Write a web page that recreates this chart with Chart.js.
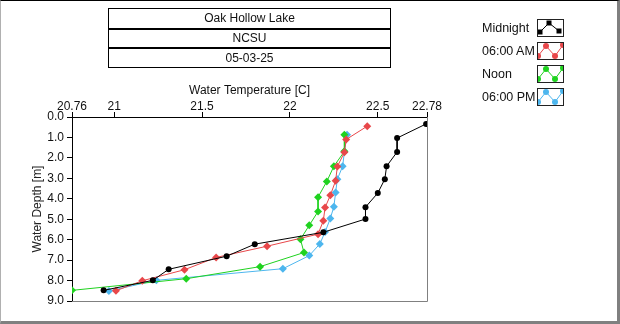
<!DOCTYPE html>
<html lang=en>
<head>
<meta charset=UTF-8>
<title>Oak Hollow Lake</title>
<style>
    * { margin: 0; padding: 0; }
    body {
        width: 620px; height: 324px; position: relative; overflow: hidden;
        background: #fff; font-family: "Liberation Sans", Arial, sans-serif; font-size: 12px; color: #111;
    }
    #chart { position: absolute; left: 0; top: 0; }
    .frame {
        position: absolute; left: 0; top: 0; width: 620px; height: 324px; box-sizing: border-box;
        border-top: 1px solid #000; border-left: 1px solid #b0b0b0;
        border-right: 3px solid #808080; border-bottom: 3px solid #808080; pointer-events: none;
    }
    .titles { position: absolute; left: 108px; top: 8px; width: 281px; border: 1px solid #000; }
    .titles div { text-align: center; }
    .titles .r1 { height: 19px; line-height: 19px; }
    .titles .r2 { height: 17px; line-height: 17px; border-top: 2px solid #000; }
    .titles .r3 { height: 18px; line-height: 18px; border-top: 2px solid #000; }
    .legend { position: absolute; left: 482px; top: 19px; }
    .legend .row { position: relative; height: 23px; }
    .legend span { position: absolute; left: 0; top: 0; line-height: 18px; white-space: nowrap; font-size: 12.5px; }
    .legend canvas { position: absolute; left: 55px; top: 0; border: 1px solid #222; }
</style>
</head>
<body>
<canvas id="chart" width="620" height="324"></canvas>
<div class="titles">
    <div class="r1">Oak Hollow Lake</div>
    <div class="r2">NCSU</div>
    <div class="r3">05-03-25</div>
</div>
<div class="legend" id="legend"></div>
<div class="frame"></div>
<script src="https://cdn.jsdelivr.net/npm/chart.js"></script>
<script>
    // tick labels
    const xTickValues = [20.76, 21, 21.5, 22, 22.5, 22.78];
    const yTickValues = [0, 1, 2, 3, 4, 5, 6, 7, 8, 9];

    const seriesNames = ['Midnight', '06:00 AM', 'Noon', '06:00 PM'];

    // water temperature [C] and depth [m] per profile
    const midnightTemp  = [22.775, 22.61, 22.61, 22.55, 22.54, 22.50, 22.43, 22.43, 22.19, 21.80, 21.64, 21.31, 21.22, 20.94];
    const midnightDepth = [0.34, 1.03, 1.71, 2.41, 3.04, 3.72, 4.41, 4.99, 5.64, 6.22, 6.81, 7.45, 7.99, 8.48];

    const amTemp  = [22.44, 22.32, 22.31, 22.27, 22.26, 22.23, 22.20, 22.19, 22.16, 21.87, 21.58, 21.40, 21.16, 21.01];
    const amDepth = [0.45, 1.10, 1.73, 2.42, 3.12, 3.83, 4.43, 5.08, 5.73, 6.32, 6.87, 7.47, 8.01, 8.50];

    const noonTemp  = [22.31, 22.31, 22.25, 22.21, 22.16, 22.16, 22.11, 22.06, 22.08, 21.83, 21.41, 20.76];
    const noonDepth = [0.87, 1.68, 2.41, 3.15, 3.92, 4.62, 5.30, 5.98, 6.63, 7.32, 7.91, 8.48];

    const pmTemp  = [22.325, 22.31, 22.30, 22.27, 22.26, 22.25, 22.23, 22.20, 22.17, 22.11, 21.96, 21.24, 20.97];
    const pmDepth = [0.87, 1.70, 2.41, 3.04, 3.69, 4.39, 4.96, 5.63, 6.21, 6.78, 7.42, 7.99, 8.51];

    const colors = ['#000000', '#e8474a', '#1fd21f', '#4db6ee'];
    const shapes = ['circle', 'rectRot', 'rectRot', 'rectRot'];
    const sizes = [3, 4, 4, 4];

    const temps = [midnightTemp, amTemp, noonTemp, pmTemp];
    const depths = [midnightDepth, amDepth, noonDepth, pmDepth];

    const font = { family: '"Liberation Sans", Arial, sans-serif', size: 12 };

    const datasets = seriesNames.map((name, i) => ({
        label: name,
        data: temps[i].map((t, j) => ({ x: t, y: depths[i][j] })),
        showLine: true,
        borderColor: colors[i],
        backgroundColor: colors[i],
        borderWidth: 1,
        pointStyle: shapes[i],
        pointRadius: sizes[i],
        pointBorderWidth: 0,
        pointBackgroundColor: colors[i]
    }));

    const plotFrame = {
        id: 'plotFrame',
        afterDraw(chart) {
            const { ctx, chartArea: a } = chart;
            ctx.save();
            ctx.strokeStyle = '#808080';
            ctx.lineWidth = 1;
            ctx.beginPath();
            ctx.moveTo(Math.round(a.right) + 0.5, a.top);
            ctx.lineTo(Math.round(a.right) + 0.5, Math.round(a.bottom) + 0.5);
            ctx.lineTo(a.left, Math.round(a.bottom) + 0.5);
            ctx.stroke();
            ctx.restore();
        }
    };

    new Chart(document.getElementById('chart'), {
        type: 'scatter',
        data: { datasets },
        options: {
            responsive: false,
            animation: false,
            devicePixelRatio: 1,
            layout: { padding: { left: 24, top: 81, right: 193, bottom: 23 } },
            plugins: { legend: { display: false }, tooltip: { enabled: false } },
            scales: {
                x: {
                    type: 'linear',
                    position: 'top',
                    min: 20.76,
                    max: 22.78,
                    afterBuildTicks: s => { s.ticks = xTickValues.map(v => ({ value: v })); },
                    afterFit: s => { s.height = 36; },
                    ticks: { font, color: '#111', padding: -2, maxRotation: 0, callback: v => String(v) },
                    grid: { drawOnChartArea: false, tickLength: 5, tickColor: '#000' },
                    border: { color: '#000', width: 1 },
                    title: { display: true, text: 'Water Temperature [C]', font, color: '#111', padding: { top: 2, bottom: 0 } }
                },
                y: {
                    type: 'linear',
                    reverse: true,
                    min: 0,
                    max: 9,
                    afterBuildTicks: s => { s.ticks = yTickValues.map(v => ({ value: v })); },
                    afterFit: s => { s.width = 48; },
                    ticks: { font, color: '#111', padding: 3, callback: v => v.toFixed(1) },
                    grid: { drawOnChartArea: false, tickLength: 5, tickColor: '#000' },
                    border: { color: '#000', width: 1 },
                    title: { display: true, text: 'Water Depth [m]', font, color: '#222', padding: { top: 6, bottom: 0 } }
                }
            }
        },
        plugins: [plotFrame]
    });

    // legend swatches
    const legend = document.getElementById('legend');
    seriesNames.forEach((name, i) => {
        const row = document.createElement('div');
        row.className = 'row';
        const label = document.createElement('span');
        label.textContent = name;
        const c = document.createElement('canvas');
        c.width = 25; c.height = 16;
        row.appendChild(label);
        row.appendChild(c);
        legend.appendChild(row);
        const g = c.getContext('2d');
        g.strokeStyle = colors[i];
        g.fillStyle = colors[i];
        g.lineWidth = 1;
        let pts;
        if (i === 0) pts = [[2, 12], [11, 3], [21, 11]];
        else pts = [[0, 13], [8, 3], [17, 13], [25, 2]];
        g.beginPath();
        pts.forEach((p, k) => k ? g.lineTo(p[0], p[1]) : g.moveTo(p[0], p[1]));
        g.stroke();
        pts.forEach(p => {
            g.beginPath();
            if (i === 0) g.fillRect(p[0] - 2.5, p[1] - 2.5, 5, 5);
            else g.arc(p[0], p[1], 3, 0, Math.PI * 2);
            g.fill();
        });
    });
</script>
</body>
</html>
